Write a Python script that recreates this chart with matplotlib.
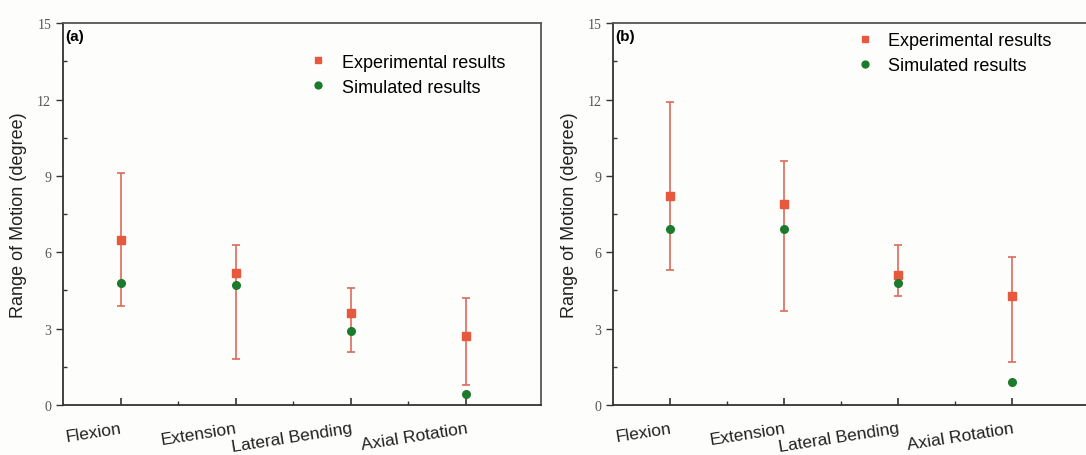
import numpy as np
import matplotlib.pyplot as plt
from matplotlib.ticker import MultipleLocator

# Data
motions = ['Flexion', 'Extension', 'Lateral Bending', 'Axial Rotation']

# panel (a)
exp_a = [6.5, 5.2, 3.6, 2.7]
exp_a_upper = [9.1, 6.3, 4.6, 4.2]
exp_a_lower = [3.9, 1.8, 2.1, 0.8]
sim_a = [4.8, 4.7, 2.9, 0.45]

# panel (b)
exp_b = [8.2, 7.9, 5.1, 4.3]
exp_b_upper = [11.9, 9.6, 6.3, 5.8]
exp_b_lower = [5.3, 3.7, 4.3, 1.7]
sim_b = [6.9, 6.9, 4.8, 0.9]

exp_color = '#E8583C'
err_color = '#DC6A5C'
sim_color = '#1C7A2C'

fig = plt.figure(figsize=(10.86, 4.56), dpi=100)
fig.patch.set_facecolor('#FDFDFB')

ax_a = fig.add_axes([0.058, 0.1096, 0.44, 0.8375])
ax_b = fig.add_axes([0.5645, 0.1096, 0.44, 0.8375])


def draw_panel(ax, tag, exp, upper, lower, sim, legend_anchor, xmax):
    x = np.arange(1, len(motions) + 1)
    exp = np.array(exp)
    yerr = [exp - np.array(lower), np.array(upper) - exp]
    ax.errorbar(x, exp, yerr=yerr, fmt='none', ecolor=err_color,
                elinewidth=1.2, capsize=2.8, capthick=1.2, zorder=2)
    ax.plot(x, exp, 's', color=exp_color, markersize=5.5, zorder=3,
            label='Experimental results', linestyle='none')
    ax.plot(x, sim, 'o', color=sim_color, markersize=5.5, zorder=4,
            label='Simulated results', linestyle='none')

    ax.set_facecolor('#FDFDFB')
    ax.set_xlim(0.5, xmax)
    ax.set_ylim(0, 15)
    ax.yaxis.set_major_locator(MultipleLocator(3))
    ax.yaxis.set_minor_locator(MultipleLocator(1.5))
    ax.set_xticks(x)
    ax.set_xticks(x[:-1] + 0.5, minor=True)
    ax.set_xticklabels(motions, rotation=9, ha='right', rotation_mode='anchor',
                       family='Liberation Sans', fontsize=12.5, color='#222222')
    for lab in ax.get_yticklabels():
        lab.set_family('Liberation Serif')
    ax.tick_params(axis='y', which='major', direction='out', length=5,
                   width=1, labelsize=10, labelcolor='#555555', color='#333333')
    ax.tick_params(axis='y', which='minor', direction='in', length=3,
                   width=1, color='#333333')
    ax.tick_params(axis='x', which='major', direction='in', length=5,
                   width=1.2, pad=11, color='#333333')
    ax.tick_params(axis='x', which='minor', direction='in', length=3,
                   width=1, color='#333333')

    for side in ['left', 'bottom']:
        ax.spines[side].set_linewidth(1.3)
        ax.spines[side].set_color('#333333')
    for side in ['top', 'right']:
        ax.spines[side].set_linewidth(1.3)
        ax.spines[side].set_color('#555555')

    ax.set_ylabel('Range of Motion (degree)', family='Liberation Sans',
                  fontsize=13, color='#222222', labelpad=7)
    ax.text(0.005, 0.985, tag, transform=ax.transAxes, ha='left', va='top',
            fontsize=11, fontweight='bold', family='Liberation Sans')
    ax.legend(loc='upper left', bbox_to_anchor=legend_anchor, frameon=False,
              prop={'family': 'Liberation Sans', 'size': 13},
              borderpad=0, borderaxespad=0, handletextpad=0.8,
              labelspacing=0.45, handlelength=1.0, markerscale=0.9)


draw_panel(ax_a, '(a)', exp_a, exp_a_upper, exp_a_lower, sim_a, (0.515, 0.92), 4.65)
draw_panel(ax_b, '(b)', exp_b, exp_b_upper, exp_b_lower, sim_b, (0.508, 0.977), 4.69)

plt.savefig('out.png', dpi=100, facecolor=fig.get_facecolor())
